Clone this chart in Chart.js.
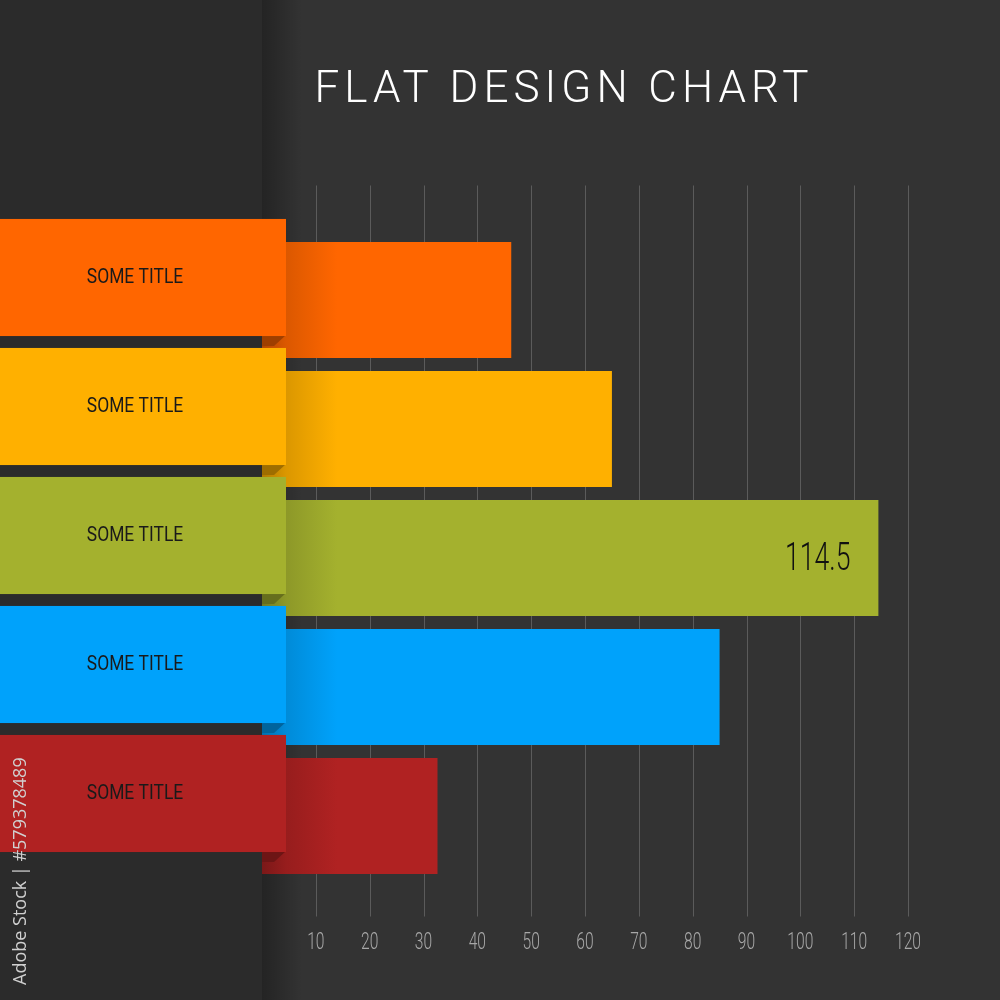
<!DOCTYPE html>
<html>
<head>
<meta charset="utf-8">
<script src="https://cdn.jsdelivr.net/npm/chart.js@4.4.1/dist/chart.umd.min.js"></script>
<style>
  html, body { margin: 0; padding: 0; background: #333333; }
  #wrap { width: 1000px; height: 1000px; }
</style>
</head>
<body>
<div id="wrap"><canvas id="chart" width="1000" height="1000"></canvas></div>
<script>
const chartTitle = 'FLAT DESIGN CHART';
const categories = ['SOME TITLE', 'SOME TITLE', 'SOME TITLE', 'SOME TITLE', 'SOME TITLE'];
const values = [46.3, 65, 114.5, 85, 32.6];
const barColors = ['#ff6600', '#ffb000', '#a4b12e', '#00a2fb', '#b02222'];
const tickValues = [10, 20, 30, 40, 50, 60, 70, 80, 90, 100, 110, 120];
const sideNote = 'Adobe Stock | #579378489';

const FONT = 'Roboto, "Open Sans", sans-serif';
const TICK_SQUEEZE = 0.65;

function shade(hex, f) {
    const n = parseInt(hex.slice(1), 16);
    const r = Math.round(((n >> 16) & 255) * f);
    const g = Math.round(((n >> 8) & 255) * f);
    const b = Math.round((n & 255) * f);
    return `rgb(${r},${g},${b})`;
}

// draws text squeezed horizontally around x (no condensed font installed)
function narrowText(ctx, text, x, y, k) {
    ctx.save();
    ctx.translate(x, y);
    ctx.scale(k, 1);
    ctx.fillText(text, 0, 0);
    ctx.restore();
}

// background, left panel, title and the tall grid lines
const backdrop = {
    id: 'backdrop',
    beforeDraw(chart) {
        const { ctx, scales } = chart;
        const x0 = scales.x.getPixelForValue(0);
        ctx.save();
        ctx.fillStyle = '#333333';
        ctx.fillRect(0, 0, chart.width, chart.height);
        ctx.fillStyle = '#2b2b2b';
        ctx.fillRect(0, 0, x0, chart.height);
        const sh = ctx.createLinearGradient(x0, 0, x0 + 40, 0);
        sh.addColorStop(0, 'rgba(0,0,0,0.3)');
        sh.addColorStop(1, 'rgba(0,0,0,0)');
        ctx.fillStyle = sh;
        ctx.fillRect(x0, 0, 40, chart.height);

        ctx.fillStyle = '#ffffff';
        ctx.font = '300 44px ' + FONT;
        ctx.letterSpacing = '5px';
        ctx.textAlign = 'center';
        ctx.textBaseline = 'middle';
        ctx.fillText(chartTitle, 564, 91);
        ctx.letterSpacing = '0px';
        ctx.restore();

        // the x tick labels are drawn next by Chart.js: squeeze each one around its own centre
        const orig = CanvasRenderingContext2D.prototype.fillText;
        ctx.fillText = function (t, x, y) {
            this.save();
            this.scale(TICK_SQUEEZE, 1);
            orig.call(this, t, x / TICK_SQUEEZE, y);
            this.restore();
        };
    },
    beforeDatasetsDraw(chart) {
        const { ctx, chartArea, scales } = chart;
        delete ctx.fillText;
        ctx.save();
        ctx.strokeStyle = 'rgba(255,255,255,0.2)';
        ctx.lineWidth = 1;
        tickValues.forEach(v => {
            const x = Math.round(scales.x.getPixelForValue(v)) + 0.5;
            ctx.beginPath();
            ctx.moveTo(x, chartArea.top - 50);
            ctx.lineTo(x, chartArea.bottom + 36);
            ctx.stroke();
        });
        ctx.restore();
    }
};

// ribbons with the category titles, folds, value label
const ribbons = {
    id: 'ribbons',
    afterDatasetsDraw(chart) {
        const { ctx, scales } = chart;
        const x0 = scales.x.getPixelForValue(0);
        const meta = chart.getDatasetMeta(0);
        ctx.save();
        meta.data.forEach((bar, i) => {
            const h = bar.height;
            const top = bar.y - h / 2 - 23;
            const bottom = top + h + 1;
            const right = x0 + 24;
            ctx.fillStyle = shade(barColors[i], 0.62);
            ctx.beginPath();
            ctx.moveTo(x0, bottom - 1);
            ctx.lineTo(right, bottom - 1);
            ctx.lineTo(right - 12, bottom + 10);
            ctx.lineTo(x0, bottom + 10);
            ctx.closePath();
            ctx.fill();

            ctx.fillStyle = barColors[i];
            ctx.fillRect(0, top, right, h + 1);

            ctx.fillStyle = '#1a1a1a';
            ctx.font = '400 21px ' + FONT;
            ctx.textAlign = 'center';
            ctx.textBaseline = 'middle';
            narrowText(ctx, categories[i], 135, top + h / 2 + 1, 0.83);
        });

        const maxIdx = values.indexOf(Math.max(...values));
        const mb = meta.data[maxIdx];
        ctx.fillStyle = '#111111';
        ctx.font = '300 38px ' + FONT;
        ctx.textAlign = 'right';
        ctx.textBaseline = 'middle';
        narrowText(ctx, String(values[maxIdx]), mb.x - 28, mb.y + 2, 0.7);

        ctx.translate(21, 985);
        ctx.rotate(-Math.PI / 2);
        ctx.fillStyle = '#d0d0d0';
        ctx.font = '18px "Open Sans", "Noto Sans", sans-serif';
        ctx.textAlign = 'left';
        ctx.textBaseline = 'middle';
        ctx.fillText(sideNote, 0, 0);
        ctx.restore();
    }
};

new Chart(document.getElementById('chart'), {
    type: 'bar',
    data: {
        labels: categories,
        datasets: [{
            data: values,
            backgroundColor: (c) => {
                const area = c.chart.chartArea;
                const col = barColors[c.dataIndex];
                if (!area) return col;
                const g = c.chart.ctx.createLinearGradient(area.left, 0, area.left + 75, 0);
                g.addColorStop(0, shade(col, 0.7));
                g.addColorStop(0.32, shade(col, 0.86));
                g.addColorStop(1, col);
                return g;
            },
            borderWidth: 0,
            categoryPercentage: 1,
            barPercentage: 0.9
        }]
    },
    options: {
        indexAxis: 'y',
        responsive: false,
        animation: false,
        layout: { padding: { top: 235.5, left: 262, right: 92, bottom: 0 } },
        plugins: {
            legend: { display: false },
            tooltip: { enabled: false }
        },
        scales: {
            y: { display: false },
            x: {
                min: 0,
                max: 120,
                afterBuildTicks: (s) => { s.ticks = tickValues.map(v => ({ value: v })); },
                afterFit: (s) => { s.height = 119.5; },
                grid: { display: false },
                border: { display: false },
                ticks: {
                    color: '#a8a8a8',
                    padding: 40,
                    maxRotation: 0,
                    autoSkip: false,
                    font: { family: FONT, size: 24, weight: 300 }
                }
            }
        }
    },
    plugins: [backdrop, ribbons]
});
</script>
</body>
</html>
